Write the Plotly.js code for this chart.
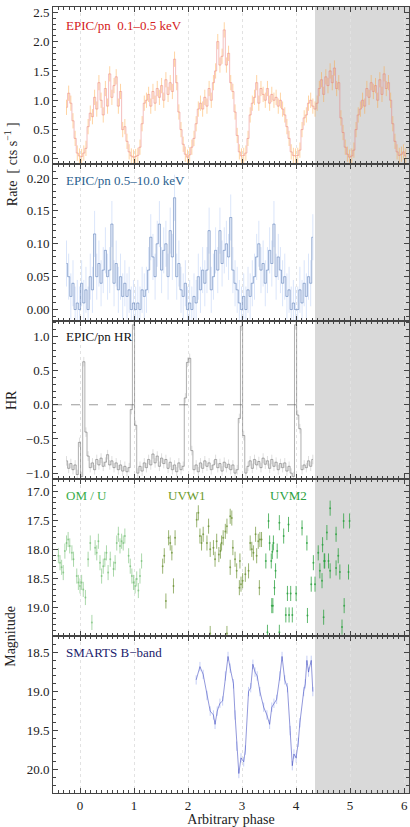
<!DOCTYPE html>
<html>
<head>
<meta charset="utf-8">
<script src="https://cdn.plot.ly/plotly-3.0.1.min.js"></script>
<style>html,body{margin:0;padding:0;background:#fff;}#chart{width:410px;height:827px;}</style>
</head>
<body>
<div id="chart"></div>
<script>
// ---------- DATA ----------
const phaseBins = [-0.25,-0.21,-0.17,-0.13,-0.09,-0.05,-0.01,0.03,0.07,0.11,0.15,0.19,0.23,0.27,0.31,0.35,0.39,0.43,0.47,0.51,0.55,0.59,0.63,0.67,0.71,0.75,0.79,0.83,0.87,0.91,0.95,0.99,1.03,1.07,1.11,1.15,1.19,1.23,1.27,1.31,1.35,1.39,1.43,1.47,1.51,1.55,1.59,1.63,1.67,1.71,1.75,1.79,1.83,1.87,1.91,1.95,1.99,2.03,2.07,2.11,2.15,2.19,2.23,2.27,2.31,2.35,2.39,2.43,2.47,2.51,2.55,2.59,2.63,2.67,2.71,2.75,2.79,2.83,2.87,2.91,2.95,2.99,3.03,3.07,3.11,3.15,3.19,3.23,3.27,3.31,3.35,3.39,3.43,3.47,3.51,3.55,3.59,3.63,3.67,3.71,3.75,3.79,3.83,3.87,3.91,3.95,3.99,4.03,4.07,4.11,4.15,4.19,4.23,4.27,4.31,4.35,4.39,4.43,4.47,4.51,4.55,4.59,4.63,4.67,4.71,4.75,4.79,4.83,4.87,4.91,4.95,4.99,5.03,5.07,5.11,5.15,5.19,5.23,5.27,5.31,5.35,5.39,5.43,5.47,5.51,5.55,5.59,5.63,5.67,5.71,5.75,5.79,5.83,5.87,5.91,5.95,5.99,6.03];

const softRate = [0.88,1.12,0.95,0.65,0.35,0.10,0.05,0.04,0.10,0.18,0.55,0.78,0.72,1.05,0.85,1.30,1.00,0.75,1.20,0.90,1.45,1.05,1.25,1.40,0.90,1.15,0.50,0.55,0.30,0.12,0.05,0.03,0.04,0.06,0.20,0.60,0.95,1.00,1.10,0.90,1.15,0.95,1.20,1.05,1.25,1.00,1.35,1.10,1.30,1.15,1.70,1.30,0.80,0.50,0.25,0.08,0.03,0.07,0.20,0.35,0.60,0.85,0.95,0.85,1.05,0.90,1.20,1.00,1.30,1.50,2.00,1.60,1.75,2.20,1.60,1.80,1.30,1.15,0.80,0.40,0.12,0.05,0.06,0.10,0.35,0.75,0.95,1.05,1.30,0.95,1.20,1.10,1.00,1.20,0.95,1.10,1.00,1.05,0.90,1.00,0.85,0.75,0.55,0.35,0.12,0.06,0.05,0.06,0.15,0.50,0.70,0.75,0.95,1.00,0.90,0.85,0.95,1.20,1.35,1.10,1.40,1.25,1.50,1.30,1.55,1.20,1.30,0.70,0.45,0.20,0.08,0.03,0.05,0.15,0.50,0.75,0.85,1.00,0.90,1.20,1.05,1.30,1.15,1.25,1.00,1.35,1.10,1.45,1.20,1.30,1.00,0.60,0.30,0.12,0.06,0.08,0.12,0.05];

const hardRate = [0.07,0.05,0.02,0.04,0.00,0.01,0.00,0.04,0.01,0.03,0.00,0.05,0.03,0.115,0.05,0.07,0.04,0.06,0.09,0.05,0.06,0.13,0.04,0.07,0.03,0.05,0.02,0.04,0.02,0.03,0.00,0.01,0.00,0.01,0.00,0.03,0.02,0.03,0.06,0.11,0.08,0.05,0.10,0.13,0.06,0.09,0.10,0.05,0.12,0.08,0.17,0.05,0.07,0.03,0.02,0.04,0.00,0.01,0.00,0.02,0.01,0.05,0.03,0.06,0.04,0.06,0.12,0.03,0.05,0.09,0.06,0.12,0.07,0.09,0.10,0.08,0.14,0.06,0.04,0.03,0.01,0.00,0.02,0.00,0.03,0.02,0.04,0.05,0.08,0.10,0.06,0.07,0.04,0.06,0.09,0.07,0.13,0.05,0.08,0.06,0.04,0.05,0.02,0.03,0.00,0.01,0.00,0.00,0.03,0.01,0.04,0.02,0.05,0.04,0.11];

const hardnessRatio = [-0.82,-0.93,-0.86,-0.95,-0.88,-1.02,-0.55,-1.05,0.63,-0.40,-0.75,-0.92,-0.85,-0.95,-0.80,-0.88,-0.78,-0.90,-0.84,-0.73,-0.88,-0.82,-0.92,-0.85,-0.95,-0.88,-0.97,-0.90,-0.98,-0.92,-0.07,1.17,-0.30,-1.00,-0.90,-0.97,-0.85,-0.92,-0.80,-0.88,-0.72,-0.85,-0.75,-0.90,-0.78,-0.86,-0.80,-0.93,-0.84,-0.95,-0.88,-0.98,-0.85,-0.95,-0.90,0.10,0.62,0.68,-0.67,-0.95,-0.88,-0.98,-0.85,-0.93,-0.82,-0.90,-0.85,-0.95,-0.88,-0.80,-0.92,-0.86,-0.97,-0.84,-0.92,-0.87,-0.95,-0.88,-1.00,-0.95,-0.20,1.15,-0.45,-1.00,-0.90,-0.82,-0.93,-0.80,-0.88,-0.83,-0.92,-0.78,-0.87,-0.82,-0.93,-0.80,-0.90,-0.84,-0.95,-0.86,-0.92,-0.85,-0.97,-0.90,-1.00,-1.05,1.17,-0.15,-0.35,-0.95,-0.88,-0.92,-0.82,-0.90,-0.80];

const uPhase = [-0.40,-0.37,-0.34,-0.31,-0.28,-0.25,-0.22,-0.19,-0.15,-0.12,-0.06,-0.03,0.00,0.03,0.06,0.10,0.15,0.19,0.22,0.28,0.31,0.34,0.37,0.40,0.43,0.46,0.49,0.52,0.56,0.62,0.65,0.68,0.71,0.74,0.77,0.80,0.83,0.90,0.93,0.96,0.99,1.02,1.05,1.08,1.11,1.14];
const uMag = [18.11,18.23,18.31,18.40,18.03,17.89,17.83,17.94,18.06,18.17,18.46,18.57,18.63,18.57,18.69,18.83,18.17,17.89,19.26,17.97,18.06,17.86,18.23,18.46,18.29,18.17,18.06,18.40,18.17,18.34,18.23,17.89,17.74,17.94,17.86,17.89,17.77,18.11,18.29,18.46,18.57,18.63,18.51,18.71,18.46,18.20];

const w1Phase = [1.53,1.56,1.59,1.64,1.67,1.70,1.73,1.76,2.16,2.19,2.22,2.25,2.28,2.35,2.38,2.41,2.47,2.50,2.53,2.57,2.60,2.62,2.65,2.69,2.72,2.78,2.78,2.81,2.83,2.87,2.90,2.95,2.96,2.98,3.01,3.06,3.12,3.15,3.18,3.21,3.25,3.27,3.30,3.32,3.33,3.36,2.41,2.72];
const w1Mag = [18.29,18.11,18.89,17.80,17.89,18.06,18.63,17.80,17.49,17.37,17.77,17.89,17.74,17.89,17.60,18.00,17.97,18.17,17.86,18.09,18.03,17.89,17.80,17.69,17.60,17.43,18.31,17.46,17.97,18.17,18.37,18.66,18.20,18.60,18.54,18.43,18.37,17.89,18.00,18.06,17.74,18.11,17.86,18.66,17.83,17.83,19.45,19.45];

const m2Phase = [3.44,3.47,3.49,3.51,3.54,3.55,3.56,3.57,3.58,3.60,3.62,3.65,3.69,3.69,3.77,3.81,3.84,3.86,3.87,3.90,3.93,4.00,4.11,4.20,4.21,4.28,4.32,4.35,4.41,4.44,4.48,4.49,4.51,4.52,4.53,4.57,4.60,4.63,4.63,4.74,4.74,4.78,4.81,4.85,4.88,4.89,4.97,4.99];
const m2Mag = [18.20,19.43,17.51,17.89,18.20,18.97,18.04,18.97,17.89,18.66,18.37,18.03,17.54,19.43,17.77,19.13,18.76,17.57,19.13,18.76,19.13,18.76,17.63,17.89,19.14,18.60,18.23,18.60,18.06,18.37,18.54,17.92,19.17,18.20,18.20,17.71,18.20,17.29,18.37,17.74,18.32,18.11,18.39,19.34,17.51,18.97,18.39,17.51];

const bPhase = [2.15,2.22,2.28,2.35,2.41,2.47,2.50,2.54,2.59,2.64,2.69,2.74,2.78,2.84,2.87,2.90,2.94,2.98,3.03,3.06,3.12,3.16,3.20,3.24,3.28,3.33,3.40,3.46,3.51,3.55,3.59,3.64,3.70,3.74,3.79,3.84,3.89,3.93,3.96,4.00,4.04,4.07,4.14,4.17,4.20,4.23,4.28,4.31];
const bMag = [18.85,18.68,18.78,19.05,19.25,19.30,19.42,19.25,19.15,19.12,18.80,18.55,18.70,18.90,19.30,19.70,20.05,19.85,19.90,19.75,19.00,18.95,18.65,18.75,18.80,19.00,19.20,19.30,19.42,19.20,19.15,19.10,18.80,18.55,18.85,18.95,19.50,19.95,19.80,19.85,19.65,19.40,19.00,18.90,18.60,18.75,18.60,19.00];

const xTickVals = [0,1,2,3,4,5,6];
const shadeStart = 4.35;

// ---------- PLOT ----------
const FONT = '"Liberation Serif", "Times New Roman", serif';
const nX = hardRate.length;
const xPart = phaseBins.slice(0, nX);

function stepTrace(x, y, xa, ya, lineColor, errColor, errVal, lw) {
  return {x: x, y: y, xaxis: xa, yaxis: ya, type: 'scatter', mode: 'lines',
    line: {shape: 'hvh', color: lineColor, width: lw},
    error_y: {type: 'constant', value: errVal, color: errColor, thickness: 1, width: 0},
    hoverinfo: 'skip', showlegend: false};
}
function omTrace(x, y, color) {
  return {x: x, y: y, xaxis: 'x4', yaxis: 'y4', type: 'scatter', mode: 'markers',
    marker: {size: 2, color: color},
    error_y: {type: 'constant', value: 0.13, color: color, thickness: 1, width: 0},
    hoverinfo: 'skip', showlegend: false};
}

const traces = [
  stepTrace(phaseBins, softRate, 'x', 'y', 'rgba(230,110,110,0.45)', 'rgba(255,160,50,0.45)', 0.13, 1),
  stepTrace(xPart, hardRate, 'x2', 'y2', 'rgba(60,100,170,0.55)', 'rgba(150,180,240,0.35)', 0.035, 0.9),
  stepTrace(xPart, hardnessRatio, 'x3', 'y3', 'rgba(80,80,80,0.65)', 'rgba(160,160,160,0.35)', 0.07, 0.7),
  omTrace(uPhase, uMag, 'rgba(90,180,90,0.5)'),
  omTrace(w1Phase, w1Mag, 'rgba(100,140,40,0.65)'),
  omTrace(m2Phase, m2Mag, 'rgba(40,160,60,0.75)'),
  {x: bPhase, y: bMag, xaxis: 'x5', yaxis: 'y5', type: 'scatter', mode: 'lines',
   line: {color: 'rgba(60,70,190,0.7)', width: 0.8},
   error_y: {type: 'constant', value: 0.06, color: 'rgba(130,150,235,0.45)', thickness: 1, width: 0},
   hoverinfo: 'skip', showlegend: false}
];

const doms = [[0.8,1],[0.6,0.8],[0.4,0.6],[0.2,0.4],[0,0.2]];
const layout = {
  width: 410, height: 827,
  margin: {l: 53, r: 1, t: 7, b: 34},
  paper_bgcolor: '#fff', plot_bgcolor: 'rgba(0,0,0,0)',
  font: {family: FONT, size: 13, color: '#222'},
  showlegend: false,
  shapes: [
    {type: 'rect', xref: 'x', yref: 'paper', x0: shadeStart, x1: 6.09, y0: 0, y1: 1,
     fillcolor: '#d9d9d9', line: {width: 0}, layer: 'below'},
    {type: 'line', xref: 'x3', yref: 'y3', x0: -0.5, x1: shadeStart, y0: 0, y1: 0,
     line: {color: '#999', width: 1, dash: 'dash'}, layer: 'below'}
  ],
  annotations: [
    {text: 'EPIC/pn\u00a0\u00a00.1–0.5\u00a0keV', xref: 'paper', yref: 'paper', x: 0.031, y: 0.977, xanchor: 'left', yanchor: 'middle', showarrow: false, font: {family: FONT, size: 13, color: '#d42020'}},
    {text: 'EPIC/pn 0.5–10.0\u00a0keV', xref: 'paper', yref: 'paper', x: 0.031, y: 0.779, xanchor: 'left', yanchor: 'middle', showarrow: false, font: {family: FONT, size: 13, color: '#2c5f8f'}},
    {text: 'EPIC/pn HR', xref: 'paper', yref: 'paper', x: 0.031, y: 0.5806, xanchor: 'left', yanchor: 'middle', showarrow: false, font: {family: FONT, size: 13, color: '#111'}},
    {text: 'OM / U', xref: 'paper', yref: 'paper', x: 0.031, y: 0.3782, xanchor: 'left', yanchor: 'middle', showarrow: false, font: {family: FONT, size: 13, color: '#3aad4a'}},
    {text: 'UVW1', xref: 'paper', yref: 'paper', x: 0.3166, y: 0.3782, xanchor: 'left', yanchor: 'middle', showarrow: false, font: {family: FONT, size: 13, color: '#6b9a2a'}},
    {text: 'UVM2', xref: 'paper', yref: 'paper', x: 0.605, y: 0.3782, xanchor: 'left', yanchor: 'middle', showarrow: false, font: {family: FONT, size: 13, color: '#2aa040'}},
    {text: 'SMARTS B−band', xref: 'paper', yref: 'paper', x: 0.031, y: 0.1785, xanchor: 'left', yanchor: 'middle', showarrow: false, font: {family: FONT, size: 13, color: '#1b1b6b'}},
    {text: 'Rate\u00a0\u00a0[ cts s<sup>−1</sup> ]', xref: 'paper', yref: 'paper', x: -0.118, y: 0.8, textangle: -90, xanchor: 'center', yanchor: 'middle', showarrow: false, font: {family: FONT, size: 14, color: '#222'}},
    {text: 'HR', xref: 'paper', yref: 'paper', x: -0.118, y: 0.5, textangle: -90, xanchor: 'center', yanchor: 'middle', showarrow: false, font: {family: FONT, size: 14, color: '#222'}},
    {text: 'Magnitude', xref: 'paper', yref: 'paper', x: -0.118, y: 0.2, textangle: -90, xanchor: 'center', yanchor: 'middle', showarrow: false, font: {family: FONT, size: 14, color: '#222'}}
  ]
};

const yCfg = [
  {range: [-0.09, 2.59], dtick: 0.5, tick0: 0, tickformat: '.1f', minor: 0.1},
  {range: [-0.018, 0.221], dtick: 0.05, tick0: 0, tickformat: '.2f', minor: 0.01},
  {range: [-1.08, 1.22], dtick: 0.5, tick0: 0, tickformat: '.1f', minor: 0.1},
  {range: [19.49, 16.78], dtick: 0.5, tick0: 17, tickformat: '.1f', minor: 0.1},
  {range: [20.30, 18.285], dtick: 0.5, tick0: 18.5, tickformat: '.1f', minor: 0.1}
];

for (let i = 0; i < 5; i++) {
  const s = i === 0 ? '' : String(i + 1);
  const xa = {
    domain: [0, 1], anchor: 'y' + s, range: [-0.5, 6.09],
    tickvals: xTickVals, ticktext: xTickVals.map(String),
    ticks: 'inside', ticklen: 5, tickcolor: '#444', linecolor: '#444', linewidth: 1,
    mirror: 'allticks', showgrid: true, gridcolor: '#e2e2e2', griddash: 'dot', gridwidth: 1,
    zeroline: false, showticklabels: i === 4,
    minor: {dtick: 0.1, tick0: 0, ticks: 'inside', ticklen: 3, tickcolor: '#444', showgrid: false},
    tickfont: {family: FONT, size: 13, color: '#222'}
  };
  if (i === 4) {
    xa.title = {text: 'Arbitrary phase', font: {family: FONT, size: 14, color: '#222'}, standoff: 2};
  }
  const c = yCfg[i];
  const ya = {
    domain: doms[i], anchor: 'x' + s, range: c.range, dtick: c.dtick, tick0: c.tick0,
    tickformat: c.tickformat, ticks: 'inside', ticklen: 5, tickcolor: '#444',
    linecolor: '#444', linewidth: 1, mirror: 'allticks', showgrid: false, zeroline: false,
    minor: {dtick: c.minor, ticks: 'inside', ticklen: 3, tickcolor: '#444', showgrid: false},
    tickfont: {family: FONT, size: 13, color: '#222'}
  };
  layout['xaxis' + s] = xa;
  layout['yaxis' + s] = ya;
}

Plotly.newPlot('chart', traces, layout, {displayModeBar: false, staticPlot: true});
</script>
</body>
</html>
